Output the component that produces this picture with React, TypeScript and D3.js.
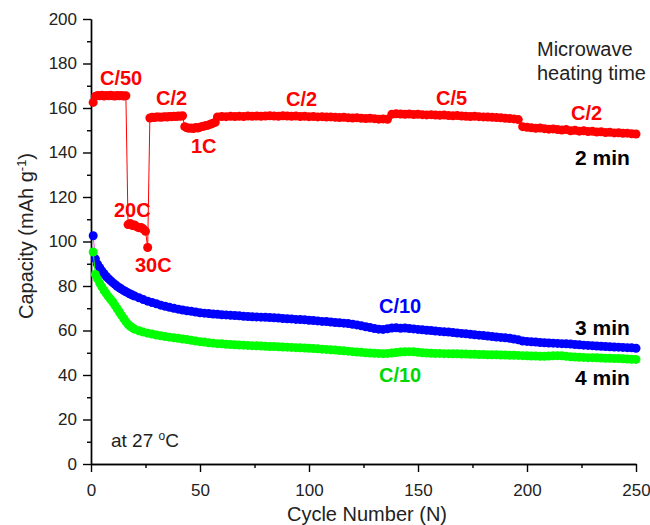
import React, { useRef, useEffect } from 'react';
import * as d3 from 'd3';

// [cycle, capacity]
const red2min: [number, number][] = [
  [1, 162.5], [2, 165.2], [3, 165.6], [4, 165.5], [5, 165.7], [6, 165.4], [7, 165.6], [8, 165.5],
  [9, 165.7], [10, 165.5], [11, 165.4], [12, 165.6], [13, 165.5], [14, 165.6], [15, 165.4], [16, 165.5],
  [17, 107.6], [18, 108.1], [19, 107.2], [20, 107.4], [21, 106.6], [22, 106.2], [23, 106.3], [24, 105.6], [25, 104.6],
  [26, 97.3],
  [27, 155.5], [28, 155.8], [29, 155.7], [30, 155.9], [31, 156], [32, 155.8], [33, 156], [34, 156.1],
  [35, 155.9], [36, 156.2], [37, 156.1], [38, 156.3], [39, 156.2], [40, 156.4], [41, 156.3], [42, 156.5],
  [43, 151.6], [44, 151.1], [45, 150.9], [46, 151], [47, 150.8], [48, 151.2], [49, 151], [50, 151.4],
  [51, 151.7], [52, 151.9], [53, 152.1], [54, 152.4], [55, 152.8], [56, 153.2], [57, 153.6],
  [58, 156], [60, 156.2], [62, 156.1], [64, 156.3], [66, 156.2], [68, 156.3], [70, 156.2], [72, 156.4],
  [74, 156.3], [76, 156.4], [78, 156.3], [80, 156.4], [82, 156.5], [84, 156.4], [86, 156.3], [88, 156.5],
  [90, 156.4], [92, 156.3], [94, 156.4], [96, 156.2], [98, 156.3], [100, 156.1], [102, 156.2], [104, 156],
  [106, 156.1], [108, 155.9], [110, 156], [112, 155.8], [114, 155.7], [116, 155.8], [118, 155.6], [120, 155.5],
  [122, 155.6], [124, 155.4], [126, 155.3], [128, 155.4], [130, 155.2], [132, 155], [134, 155.1], [136, 154.9],
  [138, 157.2], [140, 157.4], [142, 157.3], [144, 157.2], [146, 157.3], [148, 157.1], [150, 157.2], [152, 157],
  [154, 156.9], [156, 157], [158, 156.8], [160, 156.7], [162, 156.8], [164, 156.6], [166, 156.5], [168, 156.6],
  [170, 156.4], [172, 156.3], [174, 156.2], [176, 156.3], [178, 156.1], [180, 156], [182, 155.9], [184, 155.8],
  [186, 155.7], [188, 155.6], [190, 155.4], [192, 155.3], [194, 155.1], [196, 154.8],
  [198, 151.6], [200, 151.3], [202, 151.1], [204, 150.9], [206, 151], [208, 150.7], [210, 150.5], [212, 150.6],
  [214, 150.3], [216, 150.1], [218, 150.3], [220, 149.8], [222, 150], [224, 149.6], [226, 149.8], [228, 149.4],
  [230, 149.5], [232, 149.2], [234, 149.3], [236, 149], [238, 149.1], [240, 148.8], [242, 148.9], [244, 148.6],
  [246, 148.7], [248, 148.4], [250, 148.3],
];

const blue3min: [number, number][] = [
  [1, 102.6], [2, 92.2], [3, 89.8], [4, 88.2], [5, 86.8], [6, 85.5], [7, 84.3], [8, 83.3], [9, 82.4], [10, 81.5],
  [11, 80.7], [12, 79.9], [13, 79.2], [14, 78.6], [15, 78], [16, 77.4], [17, 76.9], [18, 76.4], [19, 75.9], [20, 75.5],
  [22, 74.7], [24, 73.9], [26, 73.2], [28, 72.6], [30, 72], [32, 71.4], [34, 70.9], [36, 70.4], [38, 70], [40, 69.6],
  [42, 69.2], [44, 68.9], [46, 68.6], [48, 68.3], [50, 68], [52, 67.8], [54, 67.6], [56, 67.4], [58, 67.3], [60, 67.1],
  [62, 67], [64, 66.8], [66, 66.7], [68, 66.6], [70, 66.4], [72, 66.3], [74, 66.2], [76, 66.1], [78, 66], [80, 65.9],
  [82, 65.8], [84, 65.7], [86, 65.6], [88, 65.4], [90, 65.3], [92, 65.2], [94, 65], [96, 64.9], [98, 64.8], [100, 64.6],
  [102, 64.5], [104, 64.3], [106, 64.1], [108, 64], [110, 63.8], [112, 63.6], [114, 63.5], [116, 63.3], [118, 63.1], [120, 62.8],
  [122, 62.5], [124, 62.1], [126, 61.7], [128, 61.3], [130, 60.9], [132, 60.6], [134, 60.5], [136, 60.8], [138, 61.1], [140, 61.2],
  [142, 61], [144, 61.1], [146, 60.9], [148, 60.7], [150, 60.5], [152, 60.3], [154, 60.1], [156, 60], [158, 59.8], [160, 59.6],
  [162, 59.4], [164, 59.3], [166, 59.1], [168, 58.9], [170, 58.7], [172, 58.5], [174, 58.3], [176, 58.1], [178, 57.9], [180, 57.7],
  [182, 57.5], [184, 57.3], [186, 57.1], [188, 56.9], [190, 56.7], [192, 56.5], [194, 56.2], [196, 55.8], [198, 55.3], [200, 55.1],
  [202, 54.9], [204, 54.8], [206, 54.6], [208, 54.5], [210, 54.4], [212, 54.3], [214, 54.2], [216, 54.1], [218, 54], [220, 53.9],
  [222, 53.7], [224, 53.6], [226, 53.4], [228, 53.3], [230, 53.2], [232, 53], [234, 52.9], [236, 52.8], [238, 52.7], [240, 52.6],
  [242, 52.5], [244, 52.4], [246, 52.3], [248, 52.2], [250, 52],
];

const green4min: [number, number][] = [
  [1, 95.3], [2, 85.2], [3, 83.2], [4, 81.3], [5, 79.6], [6, 78], [7, 76.6], [8, 75.2], [9, 74], [10, 72.8],
  [11, 71.3], [12, 69.8], [13, 68.3], [14, 66.8], [15, 65.4], [16, 64], [17, 62.8], [18, 61.9], [19, 61.2], [20, 60.6],
  [22, 59.9], [24, 59.3], [26, 58.8], [28, 58.4], [30, 58], [32, 57.6], [34, 57.3], [36, 57], [38, 56.7], [40, 56.5],
  [42, 56.2], [44, 55.9], [46, 55.6], [48, 55.3], [50, 55], [52, 54.8], [54, 54.5], [56, 54.3], [58, 54.1], [60, 54],
  [62, 53.8], [64, 53.7], [66, 53.6], [68, 53.5], [70, 53.4], [72, 53.3], [74, 53.2], [76, 53.1], [78, 53], [80, 52.9],
  [82, 52.8], [84, 52.8], [86, 52.7], [88, 52.6], [90, 52.5], [92, 52.4], [94, 52.3], [96, 52.2], [98, 52.1], [100, 52],
  [102, 51.9], [104, 51.8], [106, 51.6], [108, 51.5], [110, 51.3], [112, 51.2], [114, 51], [116, 50.9], [118, 50.7], [120, 50.5],
  [122, 50.3], [124, 50.2], [126, 50], [128, 49.9], [130, 49.8], [132, 49.7], [134, 49.6], [136, 49.7], [138, 49.9], [140, 50.1],
  [142, 50.3], [144, 50.4], [146, 50.5], [148, 50.4], [150, 50.2], [152, 50], [154, 49.9], [156, 49.8], [158, 49.7], [160, 49.7],
  [162, 49.6], [164, 49.6], [166, 49.5], [168, 49.5], [170, 49.4], [172, 49.4], [174, 49.3], [176, 49.3], [178, 49.2], [180, 49.2],
  [182, 49.1], [184, 49.1], [186, 49.1], [188, 49], [190, 49], [192, 48.9], [194, 48.9], [196, 48.8], [198, 48.7], [200, 48.6],
  [202, 48.5], [204, 48.5], [206, 48.4], [208, 48.4], [210, 48.5], [212, 48.6], [214, 48.7], [216, 48.6], [218, 48.4], [220, 48.2],
  [222, 48.1], [224, 48], [226, 47.9], [228, 47.8], [230, 47.8], [232, 47.7], [234, 47.6], [236, 47.5], [238, 47.5], [240, 47.4],
  [242, 47.4], [244, 47.3], [246, 47.2], [248, 47.1], [250, 47],
];

const xTicks = [0, 50, 100, 150, 200, 250];
const xMinor = [25, 75, 125, 175, 225];
const yTicks = [0, 20, 40, 60, 80, 100, 120, 140, 160, 180, 200];
const yMinor = [10, 30, 50, 70, 90, 110, 130, 150, 170, 190];

const FONT = 'Liberation Sans, Arial, Helvetica, sans-serif';

const App = () => {
  const chartRef = useRef<SVGSVGElement>(null);

  useEffect(() => {
    if (!chartRef.current) return;
    const svg = d3.select(chartRef.current);
    svg.selectAll('*').remove();

    const x = d3.scaleLinear().domain([0, 250]).range([91, 636]);
    const y = d3.scaleLinear().domain([0, 200]).range([464, 19]);

    // axes
    const styleAxis = (g: any) => {
      g.attr('font-family', FONT).attr('font-size', 17);
      g.select('.domain').attr('stroke', '#000').attr('stroke-width', 1.4);
      g.selectAll('.tick line').attr('stroke', '#000').attr('stroke-width', 1.4);
      g.selectAll('.tick text').attr('fill', '#222');
    };

    svg.append('g')
      .attr('transform', 'translate(0,' + y(0) + ')')
      .call(d3.axisBottom(x).tickValues(xMinor).tickSize(4).tickSizeOuter(0).tickFormat(() => ''))
      .call(styleAxis);
    svg.append('g')
      .attr('transform', 'translate(0,' + y(0) + ')')
      .call(d3.axisBottom(x).tickValues(xTicks).tickSize(8).tickSizeOuter(0).tickPadding(12))
      .call(styleAxis);

    svg.append('g')
      .attr('transform', 'translate(' + x(0) + ',0)')
      .call(d3.axisLeft(y).tickValues(yMinor).tickSize(4).tickSizeOuter(0).tickFormat(() => ''))
      .call(styleAxis);
    svg.append('g')
      .attr('transform', 'translate(' + x(0) + ',0)')
      .call(d3.axisLeft(y).tickValues(yTicks).tickSize(8).tickSizeOuter(0).tickPadding(6))
      .call(styleAxis);

    // axis titles
    svg.append('text')
      .attr('x', 367).attr('y', 521)
      .attr('text-anchor', 'middle')
      .attr('font-family', FONT).attr('font-size', 20).attr('fill', '#222')
      .text('Cycle Number (N)');

    const yl = svg.append('text')
      .attr('transform', 'translate(33,236) rotate(-90)')
      .attr('text-anchor', 'middle')
      .attr('font-family', FONT).attr('font-size', 20).attr('fill', '#222');
    yl.append('tspan').text('Capacity (mAh g');
    yl.append('tspan').attr('font-size', 13).attr('dy', -7).text('-1');
    yl.append('tspan').attr('dy', 7).text(')');

    // series
    const line = d3.line<[number, number]>().x(d => x(d[0])).y(d => y(d[1]));
    const series = [
      { data: red2min, fill: '#ff0000', stroke: '#ff0000' },
      { data: blue3min, fill: '#0000ff', stroke: '#ff40ff' },
      { data: green4min, fill: '#00ff00', stroke: '#00ff00' },
    ];
    series.forEach(s => {
      svg.append('path')
        .datum(s.data)
        .attr('fill', 'none')
        .attr('stroke', s.stroke)
        .attr('stroke-width', 1)
        .attr('d', line);
      svg.append('g')
        .selectAll('circle')
        .data(s.data)
        .enter()
        .append('circle')
        .attr('cx', d => x(d[0]))
        .attr('cy', d => y(d[1]))
        .attr('r', 4.5)
        .attr('fill', s.fill);
    });

    // annotations
    const label = (tx: number, ty: number, txt: string, color: string, size: number, bold: boolean) =>
      svg.append('text')
        .attr('x', tx).attr('y', ty)
        .attr('font-family', FONT)
        .attr('font-size', size)
        .attr('font-weight', bold ? 'bold' : 'normal')
        .attr('fill', color)
        .text(txt);

    label(100, 85, 'C/50', '#ff0000', 20, true);
    label(156, 105, 'C/2', '#ff0000', 20, true);
    label(191, 153, '1C', '#ff0000', 20, true);
    label(114, 217, '20C', '#ff0000', 20, true);
    label(135, 272, '30C', '#ff0000', 20, true);
    label(286, 106, 'C/2', '#ff0000', 20, true);
    label(436, 105, 'C/5', '#ff0000', 20, true);
    label(571, 120, 'C/2', '#ff0000', 20, true);
    label(575, 165, '2 min', '#000', 21, true);
    label(379, 313, 'C/10', '#0000ff', 20, true);
    label(575, 335, '3 min', '#000', 21, true);
    label(379, 382, 'C/10', '#00d800', 20, true);
    label(575, 385, '4 min', '#000', 21, true);
    label(537, 56, 'Microwave', '#222', 20, false);
    label(537, 80, 'heating time', '#222', 20, false);

    const t = label(111, 447, 'at 27 ', '#222', 19, false);
    t.append('tspan').attr('font-size', 12).attr('dy', -7).text('o');
    t.append('tspan').attr('dy', 7).text('C');
  }, []);

  return (
    <svg
      ref={chartRef}
      width="650"
      height="525"
      style={{ position: 'absolute', left: 0, top: 0, background: '#fff' }}
    />
  );
};

export default App;
